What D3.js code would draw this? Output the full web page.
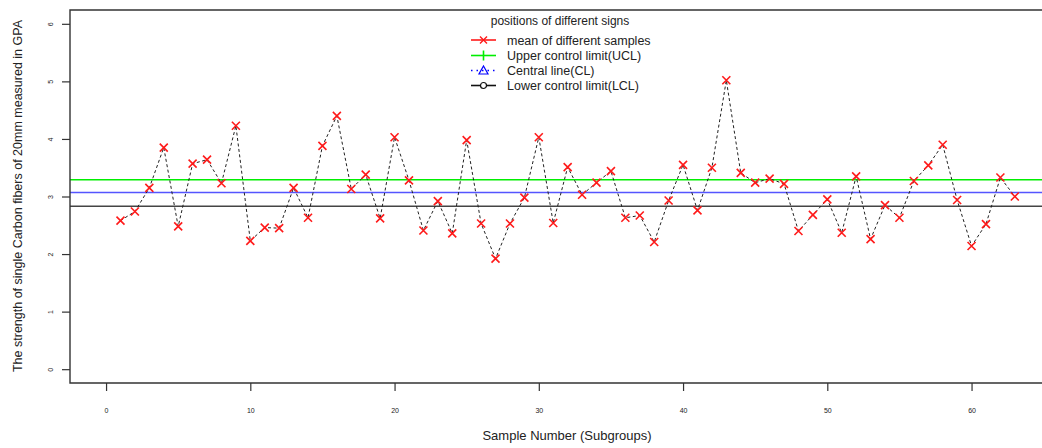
<!DOCTYPE html>
<html><head><meta charset="utf-8">
<script src="https://cdn.jsdelivr.net/npm/d3@7"></script>
<style>body{margin:0;background:#fff}svg{display:block;font-family:"Liberation Sans",Arial,sans-serif}</style>
</head><body>
<script>
const sampleNumbers = d3.range(1, 64);
const means = [2.58,2.74,3.15,3.85,2.48,3.57,3.64,3.23,4.23,2.23,
  2.46,2.45,3.15,2.63,3.88,4.40,3.13,3.38,2.62,4.03,
  3.28,2.41,2.92,2.36,3.98,2.53,1.92,2.53,2.98,4.03,
  2.54,3.51,3.03,3.24,3.44,2.63,2.67,2.21,2.93,3.55,
  2.76,3.50,5.02,3.41,3.24,3.31,3.22,2.40,2.68,2.95,
  2.37,3.35,2.26,2.85,2.63,3.27,3.54,3.90,2.94,2.14,
  2.52,3.33,3.00];
const UCL = 3.29, CL = 3.07, LCL = 2.83;
const xTicks = [0,10,20,30,40,50,60];
const yTicks = [0,1,2,3,4,5,6];
const legendLabels = ["mean of different samples","Upper control limit(UCL)","Central line(CL)","Lower control limit(LCL)"];
const legendTitle = "positions of different signs";
const xTitle = "Sample Number (Subgroups)";
const yTitle = "The strength of single Carbon fibers of 20mm measured in GPA";

const W = 1042, H = 448;
const svg = d3.select("body").append("svg").attr("width", W).attr("height", H);
const x = d3.scaleLinear().domain([-2.5, 65.3]).range([70, 1048]);
const y = d3.scaleLinear().domain([-0.24, 6.24]).range([383, 10]);

// control lines
const ctrl = [{v:UCL,c:"#00ee00"},{v:CL,c:"#5555ff"},{v:LCL,c:"#444"}];
svg.selectAll("line.ctrl").data(ctrl).enter().append("line")
  .attr("x1", x.range()[0]).attr("x2", x.range()[1])
  .attr("y1", d=>y(d.v)).attr("y2", d=>y(d.v))
  .attr("stroke", d=>d.c).attr("stroke-width", 1.4);

// dashed line
const pts = sampleNumbers.map((s,i)=>[s, means[i]]);
svg.append("path").datum(pts)
  .attr("d", d3.line().x(d=>x(d[0])).y(d=>y(d[1])))
  .attr("fill","none").attr("stroke","#222").attr("stroke-width",1)
  .attr("stroke-dasharray","3,2.5");

// markers
const s = 4;
const mk = svg.selectAll("g.mk").data(pts).enter().append("g")
  .attr("transform", d=>`translate(${x(d[0])},${y(d[1])})`);
mk.append("path").attr("d", `M${-s},${-s}L${s},${s}M${-s},${s}L${s},${-s}`)
  .attr("stroke","#ff1a1a").attr("stroke-width",1.6);

// box (left, top, bottom)
const [x0,x1] = x.range(), [yb,yt] = y.range();
svg.append("path").attr("d", `M${x1},${yt}H${x0}V${yb}H${x1}`)
  .attr("fill","none").attr("stroke","#333").attr("stroke-width",1.4);

// x axis
const xa = svg.append("g").attr("transform", `translate(0,${yb})`)
  .call(d3.axisBottom(x).tickValues(xTicks).tickSize(8).tickPadding(17).tickFormat(d3.format("d")));
xa.select(".domain").remove();
xa.selectAll("line").attr("stroke","#333").attr("stroke-width",1.2);
xa.selectAll("text").attr("font-size",7).attr("fill","#222").attr("font-family","Liberation Sans, Arial");

// y axis
const ya = svg.append("g").attr("transform", `translate(${x0},0)`)
  .call(d3.axisLeft(y).tickValues(yTicks).tickSize(8).tickFormat(d3.format("d")));
ya.select(".domain").remove();
ya.selectAll("line").attr("stroke","#333").attr("stroke-width",1.2);
ya.selectAll("text").attr("font-size",7).attr("fill","#222").attr("font-family","Liberation Sans, Arial")
  .attr("text-anchor","middle").attr("x",0).attr("dy",0)
  .attr("transform","translate(-19,0) rotate(-90)")
  .attr("dominant-baseline","middle");

// titles
svg.append("text").attr("x",567).attr("y",440).attr("text-anchor","middle")
  .attr("font-size",13).attr("fill","#222").text(xTitle);
svg.append("text").attr("transform","translate(22,196) rotate(-90)").attr("text-anchor","middle")
  .attr("font-size",12.5).attr("fill","#222").text(yTitle);

// legend
const lg = svg.append("g");
lg.append("text").attr("x",560).attr("y",25).attr("text-anchor","middle")
  .attr("font-size",12).attr("fill","#222").text(legendTitle);
const ly = [40,55.5,70.5,85.5];
const items = lg.selectAll("g.it").data(legendLabels).enter().append("g")
  .attr("transform",(d,i)=>`translate(0,${ly[i]})`);
items.append("text").attr("x",507).attr("y",4.5).attr("font-size",12.5).attr("fill","#222").text(d=>d);
const lx1 = 471, lx2 = 496, lc = 483.5;
// 0 mean
const g0 = items.filter((d,i)=>i===0);
g0.append("line").attr("x1",lx1).attr("x2",lx2).attr("stroke","#ff1a1a").attr("stroke-width",1.6);
g0.append("path").attr("d",`M${lc-3.5},-3.5L${lc+3.5},3.5M${lc-3.5},3.5L${lc+3.5},-3.5`).attr("stroke","#ff1a1a").attr("stroke-width",1.4);
// 1 UCL
const g1 = items.filter((d,i)=>i===1);
g1.append("line").attr("x1",lx1).attr("x2",lx2).attr("stroke","#00ee00").attr("stroke-width",1.6);
g1.append("path").attr("d",`M${lc},-5V5`).attr("stroke","#00ee00").attr("stroke-width",1.6);
// 2 CL
const g2 = items.filter((d,i)=>i===2);
g2.append("line").attr("x1",lx1).attr("x2",lx2).attr("stroke","#0000ff").attr("stroke-width",1.6).attr("stroke-dasharray","1.5,4");
g2.append("path").attr("d",`M${lc},-4.5L${lc+4.5},3.5L${lc-4.5},3.5Z`).attr("fill","none").attr("stroke","#0000ff").attr("stroke-width",1.2);
// 3 LCL
const g3 = items.filter((d,i)=>i===3);
g3.append("line").attr("x1",lx1).attr("x2",lx2).attr("stroke","#111").attr("stroke-width",1.6);
g3.append("circle").attr("cx",lc).attr("cy",0).attr("r",3).attr("fill","#fff").attr("stroke","#111").attr("stroke-width",1.2);
</script>
</body></html>
